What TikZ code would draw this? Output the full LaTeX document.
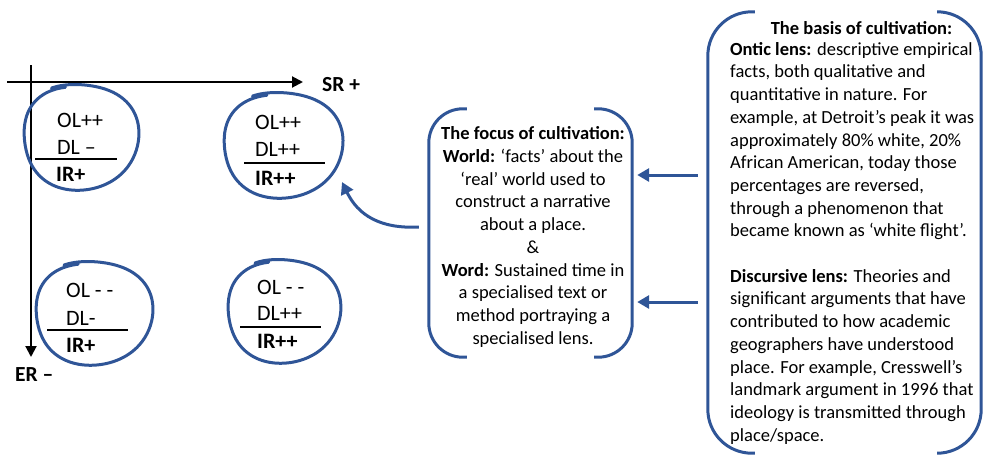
\documentclass[tikz,border=0pt]{standalone}
\usepackage{fontspec}
\setmainfont{Carlito}
\usetikzlibrary{arrows.meta}
\definecolor{penblue}{RGB}{47,85,151}

% hand-drawn loop: name, centre x, centre y, radius x, radius y
\newcommand\handblob[5]{%
  \coordinate (#1) at (#2,#3);
  \draw[blobline] plot[smooth, samples=80, domain=105:478, variable=\t]
    ({#2 + #4*(0.985+0.015*(1-cos(4*\t)))*(1+0.025*sin(3*\t+40))*(1+0.00012*(\t-105))*cos(\t)},
     {#3 - #5*(0.985+0.015*(1-cos(4*\t)))*(1+0.025*sin(3*\t+40))*(1+0.00012*(\t-105))*sin(\t)});
}

\begin{document}
\begin{tikzpicture}[x=1pt,y=-1pt,
  axisline/.style={line width=2pt, -{Triangle[length=11pt,width=11pt]}},
  blobline/.style={penblue, line width=3pt, line cap=round, line join=round},
  bracketline/.style={penblue, line width=3pt, rounded corners=#1},
  bluearrow/.style={penblue, line width=3pt, -{Triangle[length=12pt,width=13pt]}},
  sepline/.style={line width=2.6pt},
  circtext/.style={font=\fontsize{22}{27}\selectfont, anchor=west, inner sep=0pt},
  axislabel/.style={font=\bfseries\fontsize{21.5}{26}\selectfont, anchor=west, inner sep=0pt},
  bodytext/.style={font=\fontsize{18.5}{22.7}\selectfont, inner sep=0pt},
]
\useasboundingbox (0,0) rectangle (984,455);

% axes
\coordinate (hStart) at (7,82);
\coordinate (hEnd) at (303,82);
\coordinate (vStart) at (31,65);
\coordinate (vEnd) at (31,357);
\draw[axisline] (hStart) -- (hEnd);
\draw[axisline] (vStart) -- (vEnd);
\node[axislabel] (sr) at (322,85) {SR +};
\node[axislabel] (er) at (15,375) {ER –};

% the four quadrant loops
\handblob{c1}{80}{137}{57}{52}
\handblob{c2}{282}{145}{59}{52}
\handblob{c3}{93}{313}{58}{51}
\handblob{c4}{283}{311}{56}{51}

\node[circtext] (c1a) at (57,120) {OL++};
\node[circtext] (c1b) at (57,147) {DL –};
\draw[sepline] (35,159) -- (117,159);
\node[circtext] (c1c) at (56,174) {\bfseries IR+};

\node[circtext] (c2a) at (255,122) {OL++};
\node[circtext] (c2b) at (255,149) {DL++};
\draw[sepline] (244,163) -- (325,163);
\node[circtext] (c2c) at (255,178) {\bfseries IR++};

\node[circtext] (c3a) at (66,290) {OL - -};
\node[circtext] (c3b) at (66,318) {DL-};
\draw[sepline] (47,330) -- (128,330);
\node[circtext] (c3c) at (66,345) {\bfseries IR+};

\node[circtext] (c4a) at (257,287) {OL - -};
\node[circtext] (c4b) at (257,313) {DL++};
\draw[sepline] (240,327) -- (321,327);
\node[circtext] (c4c) at (257,341) {\bfseries IR++};

% focus box
\node (focus) [minimum width=203pt, minimum height=248pt, inner sep=0pt] at (530.5,233) {};
\draw[bracketline=34pt] ([xshift=38pt]focus.north west) -- (focus.north west)
  -- (focus.south west) -- ([xshift=38pt]focus.south west);
\draw[bracketline=34pt] ([xshift=-38pt]focus.north east) -- (focus.north east)
  -- (focus.south east) -- ([xshift=-38pt]focus.south east);
\node[bodytext, align=center] (focustext) at (533,237) {%
  \textbf{The focus of cultivation:}\\
  \textbf{World:} ‘facts’ about the\\
  ‘real’ world used to\\
  construct a narrative\\
  about a place.\\
  \&\\
  \textbf{Word:} Sustained time in\\
  a specialised text or\\
  method portraying a\\
  specialised lens.};

% basis box
\node (basis) [minimum width=273pt, minimum height=441pt, inner sep=0pt] at (844.5,232.5) {};
\draw[bracketline=44pt] ([xshift=47pt]basis.north west) -- (basis.north west)
  -- (basis.south west) -- ([xshift=47pt]basis.south west);
\draw[bracketline=44pt] ([xshift=-40pt]basis.north east) -- (basis.north east)
  -- (basis.south east) -- ([xshift=-40pt]basis.south east);
\node[bodytext, font=\bfseries\fontsize{18.5}{22.7}\selectfont] (basistitle) at (861.5,28) {The basis of cultivation:};
\node[bodytext, align=left, anchor=north west] (basistext) at (730,42) {%
  \textbf{Ontic lens:} descriptive empirical\\
  facts, both qualitative and\\
  quantitative in nature. For\\
  example, at Detroit’s peak it was\\
  approximately 80\% white, 20\%\\
  African American, today those\\
  percentages are reversed,\\
  through a phenomenon that\\
  became known as ‘white flight’.\\[22.7pt]
  \textbf{Discursive lens:} Theories and\\
  significant arguments that have\\
  contributed to how academic\\
  geographers have understood\\
  place. For example, Cresswell’s\\
  landmark argument in 1996 that\\
  ideology is transmitted through\\
  place/space.};

% connectors
\coordinate (c2tip) at (342,182);
\draw[bluearrow] ([xshift=-10pt]basis.west |- 0,175) -- ([xshift=5pt]focus.east |- 0,175);
\draw[bluearrow] ([xshift=-10pt]basis.west |- 0,302) -- ([xshift=5pt]focus.east |- 0,302);
\draw[bluearrow] ([xshift=-10pt]focus.west |- 0,227) .. controls (380,229) and (358,215) .. (c2tip);
\end{tikzpicture}
\end{document}
